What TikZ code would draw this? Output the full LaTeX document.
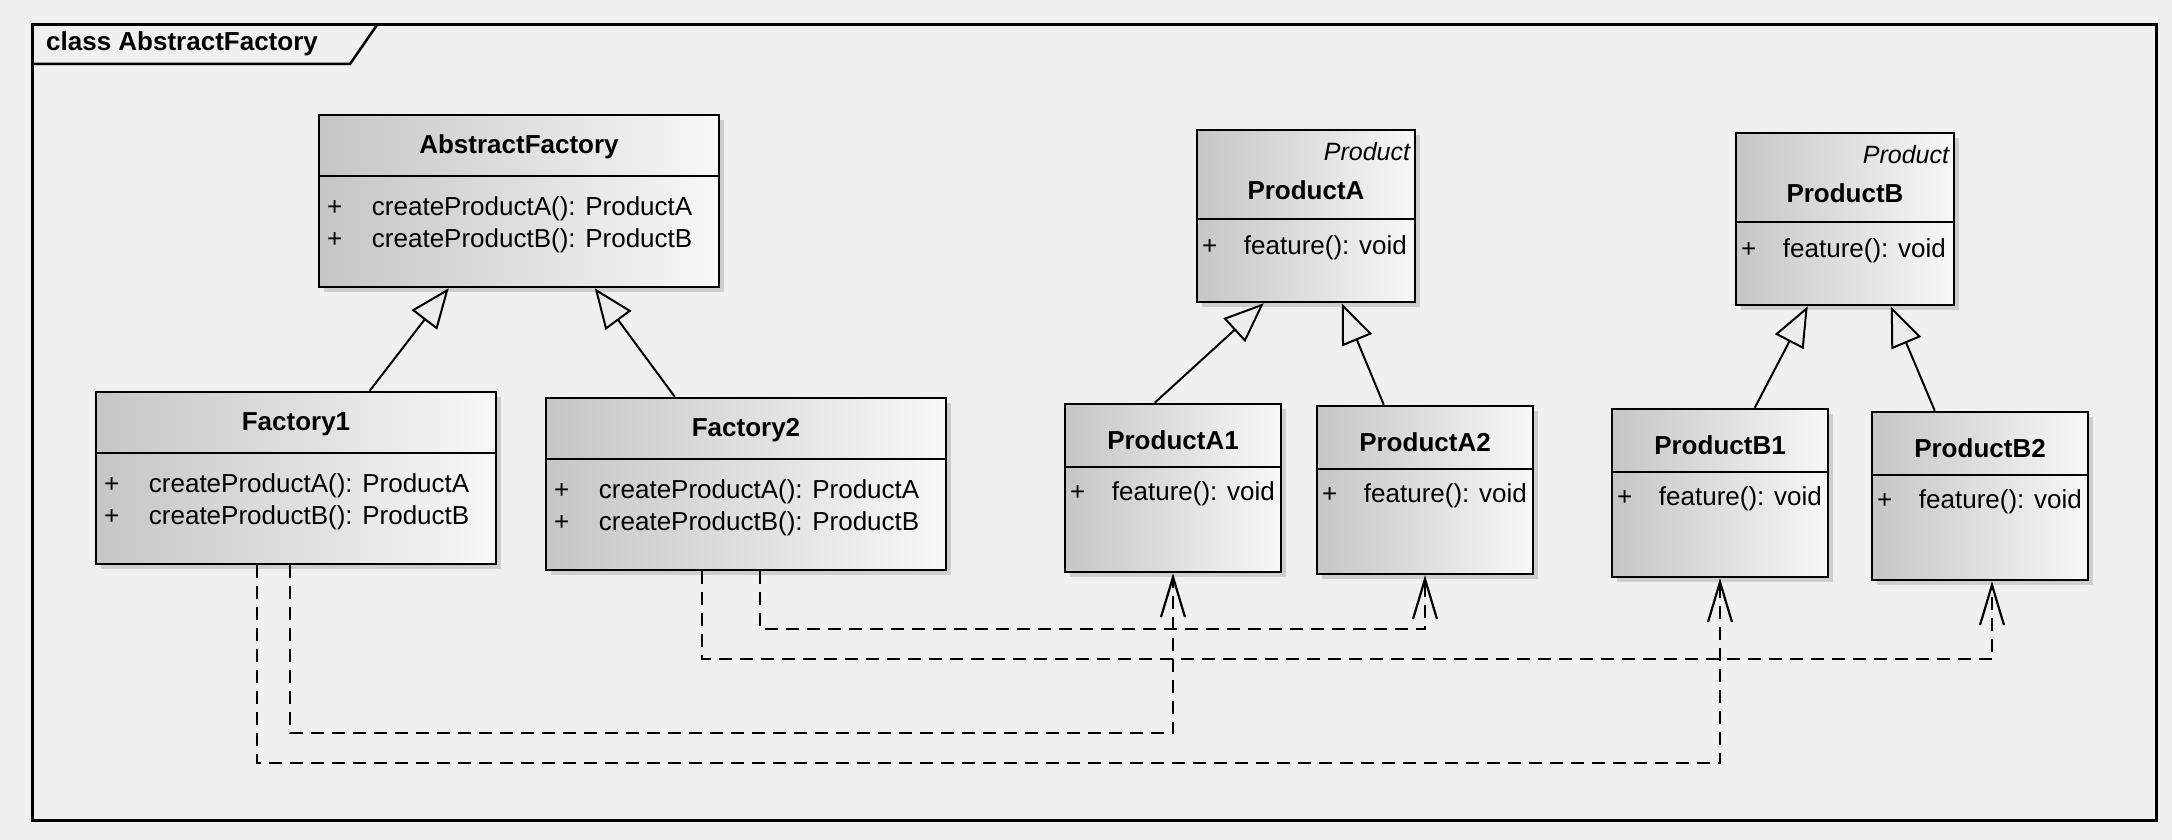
\documentclass[tikz,border=0pt]{standalone}
\usepackage{fontspec}
\setmainfont{Liberation Sans}
\usetikzlibrary{arrows.meta,calc,shadows}

\begin{document}
\begin{tikzpicture}[x=1pt, y=-1pt,
    every node/.style={font=\fontsize{26}{30}\selectfont, inner sep=0pt, text height=19pt, text depth=6pt},
    box/.style={draw, line width=2.5pt, left color=gray!45, right color=gray!6,
        drop shadow={shadow xshift=5pt, shadow yshift=-5pt, opacity=0.3}},
    bold/.style={font=\fontsize{26}{30}\selectfont\bfseries},
    stereo/.style={font=\fontsize{25}{30}\selectfont\itshape},
    inherit/.style={line width=2pt, -{Triangle[length=40pt, width=32pt, fill=gray!15]}},
    depend/.style={line width=2.2pt, dash pattern=on 13pt off 8pt, -{Straight Barb[length=40pt, width=24pt]}}]
    % 画布与背景
    \useasboundingbox (0,0) rectangle (2172,840);
    \fill[gray!12] (0,0) rectangle (2172,840);
    % 外框与标题
    \draw[line width=3pt] (32,25) rectangle (2156,820);
    \draw[line width=2.5pt] (32,64) -- (350,64) -- (377,25);
    \node[bold, anchor=west] (title) at (46,44) {class AbstractFactory};
    % 工厂类
    \foreach \n/\cx/\cy/\t in {af/519/201/AbstractFactory, f1/296/478/Factory1, f2/746/484/Factory2} {
        \node[box, minimum width=400pt, minimum height=172pt] (\n) at (\cx,\cy) {};
        \draw[line width=2pt] ($(\n.north west)+(0,62)$) -- ($(\n.north east)+(0,62)$);
        \node[bold] (\n-t) at ($(\n.north)+(0,33)$) {\t};
        \node (\n-p1) at ($(\n.north west)+(17,95)$) {+};
        \node[anchor=west] (\n-m1) at ($(\n.north west)+(54,95)$) {createProductA(): ProductA};
        \node (\n-p2) at ($(\n.north west)+(17,127)$) {+};
        \node[anchor=west] (\n-m2) at ($(\n.north west)+(54,127)$) {createProductB(): ProductB};
    }
    % 抽象产品
    \foreach \n/\cx/\cy/\t in {pa/1306/216/ProductA, pb/1845/219/ProductB} {
        \node[box, minimum width=218pt, minimum height=172pt] (\n) at (\cx,\cy) {};
        \node[stereo, anchor=east] (\n-s) at ($(\n.north east)+(-6,25)$) {Product};
        \node[bold] (\n-t) at ($(\n.north)+(0,64)$) {\t};
        \draw[line width=2pt] ($(\n.north west)+(0,90)$) -- ($(\n.north east)+(0,90)$);
        \node (\n-p) at ($(\n.north west)+(14,119)$) {+};
        \node[anchor=west] (\n-m) at ($(\n.north west)+(48,119)$) {feature(): void};
    }
    % 具体产品
    \foreach \n/\cx/\cy/\t in {a1/1173/488/ProductA1, a2/1425/490/ProductA2, b1/1720/493/ProductB1, b2/1980/496/ProductB2} {
        \node[box, minimum width=216pt, minimum height=168pt] (\n) at (\cx,\cy) {};
        \draw[line width=2pt] ($(\n.north west)+(0,64)$) -- ($(\n.north east)+(0,64)$);
        \node[bold] (\n-t) at ($(\n.north)+(0,40)$) {\t};
        \node (\n-p) at ($(\n.north west)+(14,91)$) {+};
        \node[anchor=west] (\n-m) at ($(\n.north west)+(48,91)$) {feature(): void};
    }
    % 继承
    \draw[inherit] ($(f1.north west)+(275,0)$) -- ($(af.south west)+(131,0)$);
    \draw[inherit] ($(f2.north west)+(130,0)$) -- ($(af.south west)+(277,0)$);
    \draw[inherit] ($(a1.north west)+(91,0)$) -- ($(pa.south west)+(68,0)$);
    \draw[inherit] ($(a2.north west)+(68,0)$) -- ($(pa.south west)+(146,0)$);
    \draw[inherit] ($(b1.north west)+(144,0)$) -- ($(pb.south west)+(73,0)$);
    \draw[inherit] ($(b2.north west)+(64,0)$) -- ($(pb.south west)+(156,0)$);
    % 依赖
    \draw[depend] ($(f1.south west)+(162,0)$) -- ++(0,198) -| (b1.south);
    \draw[depend] ($(f1.south west)+(195,0)$) -- ++(0,168) -| (a1.south);
    \draw[depend] ($(f2.south west)+(157,0)$) -- ++(0,88) -| ($(b2.south)+(12,0)$);
    \draw[depend] ($(f2.south west)+(215,0)$) -- ++(0,58) -| (a2.south);
\end{tikzpicture}
\end{document}
